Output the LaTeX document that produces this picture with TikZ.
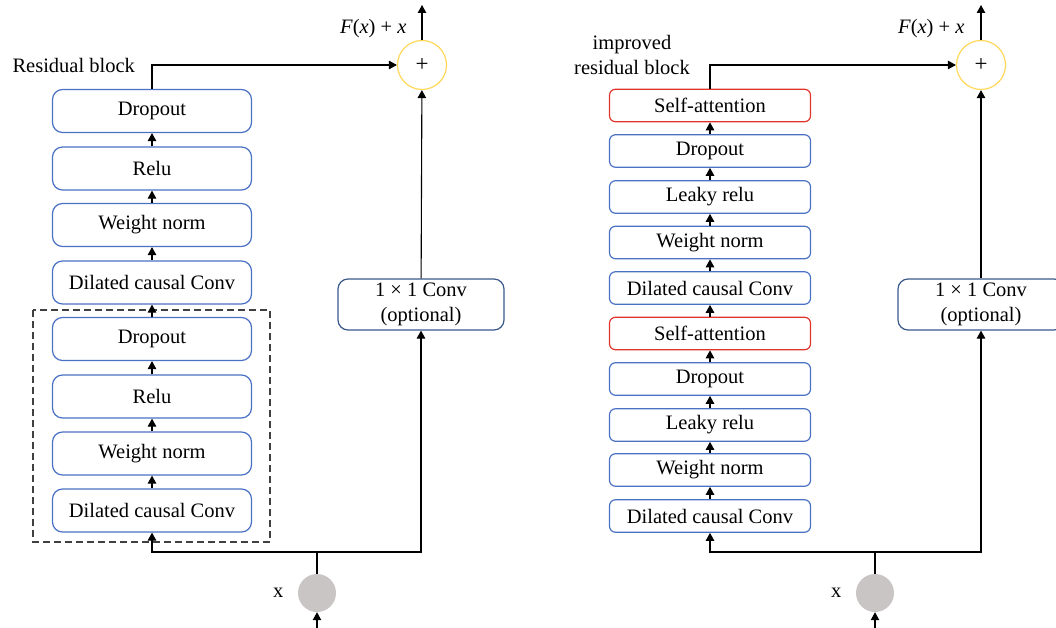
\documentclass[tikz,border=0pt]{standalone}
\usepackage{fontspec}
\setmainfont{Liberation Serif}
\usetikzlibrary{arrows.meta}
\definecolor{boxblue}{HTML}{4A72C4}
\definecolor{convblue}{HTML}{3A5A8C}
\definecolor{attred}{HTML}{E0352B}
\definecolor{sumyellow}{HTML}{FFD85A}
\definecolor{inputgray}{HTML}{C9C5C5}
\newcommand{\fxlabel}{\textit{F}(\textit{x}) + \textit{x}}
\tikzset{
  every node/.style={font=\fontsize{20.5}{24}\selectfont},
  layerL/.style={draw=boxblue, line width=1.2pt, rounded corners=10pt, fill=white,
    minimum width=199pt, minimum height=43pt, inner sep=0pt},
  layerR/.style={draw=boxblue, line width=1.2pt, rounded corners=6pt, fill=white,
    minimum width=201pt, minimum height=32.5pt, inner sep=0pt},
  attn/.style={layerR, draw=attred},
  convbox/.style={draw=convblue, line width=1.2pt, rounded corners=10pt, fill=white,
    minimum width=166pt, minimum height=51pt, align=center, inner sep=0pt,
    font=\fontsize{20.5}{25}\selectfont},
  sumnode/.style={circle, draw=sumyellow, line width=1.2pt, minimum size=49pt, inner sep=0pt,
    font=\fontsize{23}{24}\selectfont},
  inputnode/.style={circle, fill=inputgray, minimum size=38pt, inner sep=0pt},
  link/.style={line width=1.1pt, -{Triangle[length=8pt,width=8.5pt]}},
  wire/.style={line width=1.1pt},
}
\begin{document}
\begin{tikzpicture}[x=1pt,y=-1pt]
\useasboundingbox (0,0) rectangle (1056,628);

% ---------------- residual block ----------------
\node[layerL] (a1) at (152,111)   {Dropout};
\node[layerL] (a2) at (152,168.5) {Relu};
\node[layerL] (a3) at (152,225)   {Weight norm};
\node[layerL] (a4) at (152,282.5) {Dilated causal Conv};
\node[layerL] (b1) at (152,339)   {Dropout};
\node[layerL] (b2) at (152,396.5) {Relu};
\node[layerL] (b3) at (152,453.5) {Weight norm};
\node[layerL] (b4) at (152,510.5) {Dilated causal Conv};
\draw[draw=black!75, line width=1.2pt, dash pattern=on 7pt off 4pt]
  (33,310) rectangle (270,542);

\node[convbox] (c1) at (421,304.5) {1 × 1 Conv\\(optional)};
\node[sumnode] (s1) at (422,65) {+};
\node[inputnode] (x1) at (317,593) {};
\node[anchor=east] at (x1.west) [xshift=-11pt] {x};
\node[anchor=west] (lblL) at (9,65) {Residual block};
\node[anchor=east] (fL) at (410,29) {\fxlabel};

\coordinate (inL) at (317,628);
\coordinate (outL) at (422,5);
\coordinate (jL) at (317,552);

\draw[link] (b4) -- (b3);
\draw[link] (b3) -- (b2);
\draw[link] (b2) -- (b1);
\draw[link] (b1) -- (a4);
\draw[link] (a4) -- (a3);
\draw[link] (a3) -- (a2);
\draw[link] (a2) -- (a1);
\draw[link] (a1.north) |- (s1.west);
\draw[link] (c1) -- (s1);
\draw[link] (s1) -- (outL);
\draw[link] (inL) -- (x1);
\draw[wire] (x1) -- (jL);
\draw[link] (jL) -| (b4.south);
\draw[link] (jL) -| (c1.south);

% ---------------- improved residual block ----------------
\node[attn]   (r1)  at (710,105.5) {Self-attention};
\node[layerR] (r2)  at (710,151)   {Dropout};
\node[layerR] (r3)  at (710,197)   {Leaky relu};
\node[layerR] (r4)  at (710,242.5) {Weight norm};
\node[layerR] (r5)  at (710,288)   {Dilated causal Conv};
\node[attn]   (r6)  at (710,333.5) {Self-attention};
\node[layerR] (r7)  at (710,379)   {Dropout};
\node[layerR] (r8)  at (710,425)   {Leaky relu};
\node[layerR] (r9)  at (710,470)   {Weight norm};
\node[layerR] (r10) at (710,516)   {Dilated causal Conv};

\node[convbox] (c2) at (981,304.5) {1 × 1 Conv\\(optional)};
\node[sumnode] (s2) at (981,65) {+};
\node[inputnode] (x2) at (875,593) {};
\node[anchor=east] at (x2.west) [xshift=-11pt] {x};
\node[align=center, font=\fontsize{20.5}{25}\selectfont] (lblR) at (632,55) {improved\\residual block};
\node[anchor=east] (fR) at (968,29) {\fxlabel};

\coordinate (inR) at (875,628);
\coordinate (outR) at (981,5);
\coordinate (jR) at (875,552);

\foreach \lo/\hi in {r10/r9, r9/r8, r8/r7, r7/r6, r6/r5, r5/r4, r4/r3, r3/r2, r2/r1}
  \draw[link] (\lo) -- (\hi);
\draw[link] (r1.north) |- (s2.west);
\draw[link] (c2) -- (s2);
\draw[link] (s2) -- (outR);
\draw[link] (inR) -- (x2);
\draw[wire] (x2) -- (jR);
\draw[link] (jR) -| (r10.south);
\draw[link] (jR) -| (c2.south);
\end{tikzpicture}
\end{document}
